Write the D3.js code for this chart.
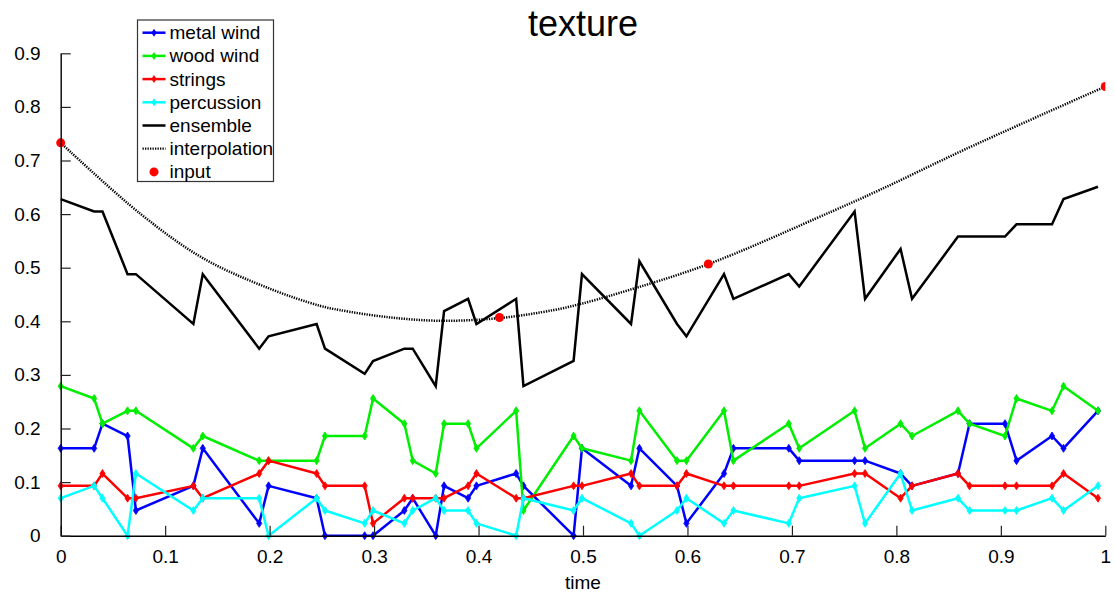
<!DOCTYPE html>
<html>
<head>
<meta charset="utf-8">
<script src="https://cdn.jsdelivr.net/npm/d3@7"></script>
<style>
  body { margin: 0; background: #fff; }
  text { font-family: "Liberation Sans", Arial, sans-serif; fill: #000; }
</style>
</head>
<body>
<div id="chart"></div>
<script>
// sample times (shared by all instrument groups)
var times = [0, 0.032, 0.040, 0.064, 0.072, 0.127, 0.136, 0.190, 0.199, 0.245, 0.253,
             0.291, 0.299, 0.329, 0.337, 0.359, 0.367, 0.390, 0.398, 0.436, 0.443,
             0.491, 0.499, 0.546, 0.554, 0.590, 0.599, 0.635, 0.644, 0.697, 0.707,
             0.760, 0.770, 0.804, 0.815, 0.859, 0.870, 0.904, 0.915, 0.949, 0.960, 0.993];

var metalWind = [0.163, 0.163, 0.209, 0.186, 0.047, 0.093, 0.163, 0.023, 0.093, 0.070, 0,
                 0, 0, 0.047, 0.070, 0, 0.093, 0.070, 0.093, 0.116, 0.093,
                 0, 0.163, 0.093, 0.163, 0.093, 0.023, 0.116, 0.163, 0.163, 0.140,
                 0.140, 0.140, 0.116, 0.093, 0.116, 0.209, 0.209, 0.140, 0.186, 0.163, 0.233];

var woodWind = [0.279, 0.256, 0.209, 0.233, 0.233, 0.163, 0.186, 0.140, 0.140, 0.140, 0.186,
                0.186, 0.256, 0.209, 0.140, 0.116, 0.209, 0.209, 0.163, 0.233, 0.047,
                0.186, 0.163, 0.140, 0.233, 0.140, 0.140, 0.233, 0.140, 0.209, 0.163,
                0.233, 0.163, 0.209, 0.186, 0.233, 0.209, 0.186, 0.256, 0.233, 0.279, 0.233];

var strings = [0.093, 0.093, 0.116, 0.070, 0.070, 0.093, 0.070, 0.116, 0.140, 0.116, 0.093,
               0.093, 0.023, 0.070, 0.070, 0.070, 0.070, 0.093, 0.116, 0.070, 0.070,
               0.093, 0.093, 0.116, 0.093, 0.093, 0.116, 0.093, 0.093, 0.093, 0.093,
               0.116, 0.116, 0.070, 0.093, 0.116, 0.093, 0.093, 0.093, 0.093, 0.116, 0.070];

var percussion = [0.070, 0.093, 0.070, 0, 0.116, 0.047, 0.070, 0.070, 0, 0.070, 0.047,
                  0.023, 0.047, 0.023, 0.047, 0.070, 0.047, 0.047, 0.023, 0, 0.070,
                  0.047, 0.070, 0.023, 0, 0.047, 0.070, 0.023, 0.047, 0.023, 0.070,
                  0.093, 0.023, 0.116, 0.047, 0.070, 0.047, 0.047, 0.047, 0.070, 0.047, 0.093];

var ensemble = [0.628, 0.605, 0.605, 0.488, 0.488, 0.395, 0.488, 0.349, 0.372, 0.395, 0.349,
                0.302, 0.326, 0.349, 0.349, 0.279, 0.419, 0.442, 0.395, 0.442, 0.279,
                0.326, 0.488, 0.395, 0.512, 0.395, 0.372, 0.488, 0.442, 0.488, 0.465,
                0.605, 0.442, 0.535, 0.442, 0.558, 0.558, 0.558, 0.581, 0.581, 0.628, 0.651];

// interpolation curve
var curveTimes  = [0, 0.076, 0.136, 0.200, 0.248, 0.267, 0.312, 0.363, 0.420, 0.472, 0.497,
                   0.535, 0.619, 0.722, 0.784, 0.866, 1];
var curveValues = [0.733, 0.601, 0.518, 0.461, 0.429, 0.421, 0.408, 0.401, 0.406, 0.421, 0.432,
                   0.453, 0.506, 0.591, 0.645, 0.721, 0.838];

var inputTimes  = [0, 0.42, 0.62, 1];
var inputValues = [0.733, 0.407, 0.507, 0.838];

var xTicks = [0, 0.1, 0.2, 0.3, 0.4, 0.5, 0.6, 0.7, 0.8, 0.9, 1];
var yTicks = [0, 0.1, 0.2, 0.3, 0.4, 0.5, 0.6, 0.7, 0.8, 0.9];

var groups = [
    { name: 'metal wind', color: '#0000ff', values: metalWind },
    { name: 'wood wind',  color: '#00ee00', values: woodWind },
    { name: 'strings',    color: '#ff0000', values: strings },
    { name: 'percussion', color: '#00ffff', values: percussion }
];

var W = 1115, H = 597;
var margin = { left: 60.7, right: 9.7, top: 53.3, bottom: 61.3 };
var width = W - margin.left - margin.right;
var height = H - margin.top - margin.bottom;

var x = d3.scaleLinear().domain([0, 1]).range([0, width]);
var y = d3.scaleLinear().domain([0, 0.9]).range([height, 0]);

var svg = d3.select('#chart').append('svg')
    .attr('width', W).attr('height', H);

svg.append('defs').append('clipPath').attr('id', 'plot-clip')
   .append('rect').attr('x', -10).attr('y', -20)
   .attr('width', width + 10).attr('height', height + 30);

var g = svg.append('g').attr('transform', 'translate(' + margin.left + ',' + margin.top + ')');

function diamond(cx, cy) {
    return 'M' + cx + ',' + (cy - 4) + 'L' + (cx + 2.6) + ',' + cy +
           'L' + cx + ',' + (cy + 4) + 'L' + (cx - 2.6) + ',' + cy + 'Z';
}

var line = d3.line()
    .x(function(d) { return x(d[0]); })
    .y(function(d) { return y(d[1]); });

var smooth = d3.line()
    .x(function(d) { return x(d[0]); })
    .y(function(d) { return y(d[1]); })
    .curve(d3.curveCatmullRom);

var plot = g.append('g').attr('clip-path', 'url(#plot-clip)');

groups.forEach(function(grp) {
    var pts = times.map(function(t, i) { return [t, grp.values[i]]; });
    plot.append('path')
        .attr('d', line(pts))
        .attr('fill', 'none')
        .attr('stroke', grp.color)
        .attr('stroke-width', 2.5)
        .attr('stroke-linejoin', 'round');
    plot.append('g').selectAll('path').data(pts).enter()
        .append('path')
        .attr('d', function(d) { return diamond(x(d[0]), y(d[1])); })
        .attr('fill', grp.color)
        .attr('stroke', grp.color)
        .attr('stroke-width', 0.8);
});

plot.append('path')
    .attr('d', line(times.map(function(t, i) { return [t, ensemble[i]]; })))
    .attr('fill', 'none')
    .attr('stroke', '#000')
    .attr('stroke-width', 2.5);

plot.append('path')
    .attr('d', smooth(curveTimes.map(function(t, i) { return [t, curveValues[i]]; })))
    .attr('fill', 'none')
    .attr('stroke', '#000')
    .attr('stroke-width', 2.5)
    .attr('stroke-dasharray', '1.3,1.2');

plot.append('g').selectAll('circle').data(inputTimes).enter()
    .append('circle')
    .attr('cx', function(d) { return x(d); })
    .attr('cy', function(d, i) { return y(inputValues[i]); })
    .attr('r', 4.5)
    .attr('fill', '#ff0000');

// axes
var xAxis = g.append('g').attr('transform', 'translate(0,' + height + ')')
    .call(d3.axisBottom(x).tickValues(xTicks).tickSizeInner(-10).tickSizeOuter(0).tickPadding(14)
          .tickFormat(d3.format('')));
var yAxis = g.append('g')
    .call(d3.axisLeft(y).tickValues(yTicks).tickSizeInner(-10).tickSizeOuter(0).tickPadding(20)
          .tickFormat(d3.format('')));

[xAxis, yAxis].forEach(function(a) {
    a.select('.domain').attr('stroke', '#000').attr('stroke-width', 1.4);
    a.selectAll('.tick line').attr('stroke', '#222').attr('stroke-width', 1.2);
    a.selectAll('.tick text').attr('font-size', 19).attr('fill', '#000')
     .style('font-family', '"Liberation Sans", Arial, sans-serif');
});

svg.append('text')
   .attr('x', margin.left + width / 2).attr('y', 36)
   .attr('text-anchor', 'middle').attr('font-size', 36)
   .text('texture');

svg.append('text')
   .attr('x', margin.left + width / 2).attr('y', 589)
   .attr('text-anchor', 'middle').attr('font-size', 19)
   .text('time');

// legend
var legendItems = groups.map(function(grp) { return { name: grp.name, color: grp.color, kind: 'marker' }; })
    .concat([{ name: 'ensemble', color: '#000', kind: 'solid' },
             { name: 'interpolation', color: '#000', kind: 'dotted' },
             { name: 'input', color: '#ff0000', kind: 'dot' }]);

var legend = svg.append('g').attr('transform', 'translate(137.5,20)');
legend.append('rect')
      .attr('width', 136).attr('height', 161.5)
      .attr('fill', '#fff').attr('stroke', '#333').attr('stroke-width', 1.2);

legend.selectAll('g.item').data(legendItems).enter()
    .append('g').attr('class', 'item')
    .attr('transform', function(d, i) { return 'translate(0,' + (12.7 + i * 23.2) + ')'; })
    .each(function(d) {
        var item = d3.select(this);
        if (d.kind === 'dot') {
            item.append('circle').attr('cx', 16.5).attr('cy', 0).attr('r', 4.5).attr('fill', d.color);
        } else {
            item.append('line').attr('x1', 5).attr('x2', 28).attr('y1', 0).attr('y2', 0)
                .attr('stroke', d.color)
                .attr('stroke-width', d.kind === 'dotted' ? 2.2 : 2.5)
                .attr('stroke-dasharray', d.kind === 'dotted' ? '1.3,1.2' : null);
            if (d.kind === 'marker') {
                item.append('path').attr('d', diamond(16.5, 0)).attr('fill', d.color);
            }
        }
        item.append('text').attr('x', 32).attr('y', 6.5).attr('font-size', 19).text(d.name);
    });
</script>
</body>
</html>
